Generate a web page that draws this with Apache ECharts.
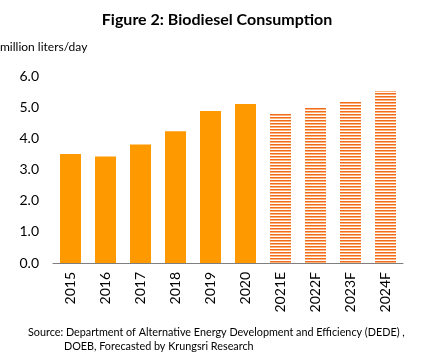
<!DOCTYPE html>
<html><head><meta charset="utf-8">
<script src="https://cdn.jsdelivr.net/npm/echarts@6/dist/echarts.min.js"></script>
<style>html,body{margin:0;padding:0;background:#fff}#c{width:435px;height:360px}</style>
</head><body><div id="c"></div>
<script>
const categories = ['2015','2016','2017','2018','2019','2020','2021E','2022F','2023F','2024F'];
const actualValues = [3.50, 3.42, 3.80, 4.23, 4.88, 5.10, null, null, null, null];
const forecastValues = [null, null, null, null, null, null, 4.78, 4.98, 5.17, 5.52];
const yTicks = [0, 1, 2, 3, 4, 5, 6];

const pc = document.createElement('canvas');
pc.width = 4; pc.height = 3;
const g = pc.getContext('2d');
g.fillStyle = '#ffffff'; g.fillRect(0,0,4,3);
g.fillStyle = '#F36A1E'; g.fillRect(0,0,4,1);
g.fillStyle = '#FBB57A'; g.fillRect(0,1,4,1);

const font = 'Lato, "Open Sans", sans-serif';
const chart = echarts.init(document.getElementById('c'), null, {renderer:'canvas'});
chart.setOption({
  animation:false,
  backgroundColor:'#fff',
  title:{text:'Figure 2: Biodiesel Consumption', left:212, textAlign:'center', top:7,
    textStyle:{fontFamily:font, fontWeight:'bold', fontSize:16, color:'#000'}},
  graphic:[
    {type:'text', left:0, top:41, style:{text:'million liters/day', font:'12px '+font, fill:'#000'}},
    {type:'text', left:28, top:326, style:{text:'Source: Department of Alternative Energy Development and Efficiency (DEDE) ,\n             DOEB, Forecasted by Krungsri Research', font:'10.8px '+font, fill:'#000', lineHeight:14}}
  ],
  grid:{left:53, right:32, top:76, bottom:97},
  xAxis:{type:'category', data:categories,
    axisLine:{lineStyle:{color:'#7f7f7f', width:1}}, axisTick:{show:false},
    axisLabel:{rotate:90, interval:0, fontFamily:font, fontSize:14, color:'#000', margin:9}},
  yAxis:{type:'value', min:0, max:6, interval:1,
    axisLine:{show:false}, axisTick:{show:false}, splitLine:{show:false},
    axisLabel:{formatter:v=>v.toFixed(1), fontFamily:font, fontSize:14, color:'#000', margin:14}},
  series:[
    {type:'bar', data:actualValues, stack:'a', barWidth:'60%', itemStyle:{color:'#FF9900'}},
    {type:'bar', data:forecastValues, stack:'a', barWidth:'60%', itemStyle:{color:{image:pc, repeat:'repeat'}}}
  ]
});
</script></body></html>
